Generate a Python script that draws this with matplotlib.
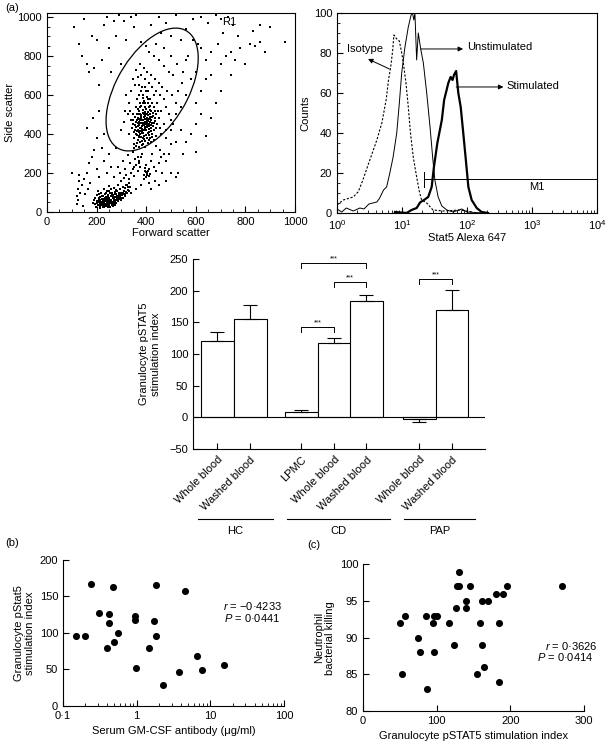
import numpy as np
import matplotlib
matplotlib.use("Agg")
import matplotlib.pyplot as plt
from matplotlib.patches import Ellipse
from matplotlib.ticker import MultipleLocator, LogLocator, NullFormatter

plt.rcParams['font.family'] = ['Liberation Sans', 'DejaVu Sans']
plt.rcParams['font.size'] = 8
plt.rcParams['mathtext.fontset'] = 'custom'
plt.rcParams['mathtext.rm'] = 'Liberation Sans'
plt.rcParams['mathtext.it'] = 'Liberation Sans:italic'
plt.rcParams['mathtext.default'] = 'regular'
plt.rcParams['xtick.direction'] = 'in'
plt.rcParams['ytick.direction'] = 'in'
plt.rcParams['axes.linewidth'] = 0.8

# ---- panel (a) left: forward / side scatter dots ----
lymph_pts = [
    (195, 40), (200, 55), (205, 35), (208, 70), (210, 50), (212, 30), (215, 62), (218, 45), (220, 80), (222, 38),
    (225, 55), (227, 68), (228, 28), (230, 48), (232, 90), (234, 60), (236, 42), (238, 75), (240, 52), (241, 33),
    (243, 65), (245, 85), (246, 47), (248, 58), (250, 38), (251, 72), (253, 95), (255, 55), (256, 44), (258, 80),
    (260, 62), (262, 35), (263, 100), (265, 70), (267, 50), (268, 88), (270, 58), (272, 42), (274, 75), (275, 105),
    (277, 63), (279, 48), (280, 90), (282, 70), (284, 110), (286, 55), (288, 82), (290, 66), (292, 95), (294, 120),
    (296, 75), (298, 60), (300, 100), (303, 85), (306, 130), (308, 70), (310, 110), (313, 92), (316, 125), (320, 105),
    (324, 140), (328, 115), (332, 150), (336, 130), (215, 22), (225, 25), (235, 30), (245, 28), (255, 25), (265, 30),
    (275, 35), (233, 72), (247, 80), (261, 86), (239, 98), (252, 110), (270, 125), (285, 140), (219, 95), (207, 110),
    (200, 85), (190, 60), (185, 45), (198, 25), (228, 62), (236, 55), (244, 44), (252, 63), (259, 52), (266, 78),
    (273, 92), (281, 60), (289, 74), (297, 88), (305, 98), (213, 40), (221, 66), (231, 36), (242, 76), (254, 46),
    (203, 48), (209, 60), (214, 75), (217, 52), (223, 47), (226, 83), (231, 58), (237, 64), (242, 39), (249, 68),
    (257, 59), (264, 45), (269, 66), (276, 52), (283, 80), (291, 85), (299, 72), (307, 92), (314, 80), (318, 140),
    (326, 128), (322, 95), (330, 110), (240, 110), (260, 120), (280, 115), (230, 120), (250, 135), (210, 90), (195, 70),
]
bridge_pts = [
    (300, 160), (310, 175), (320, 190), (330, 170), (340, 200), (345, 220), (350, 185), (360, 240), (365, 210),
    (370, 260), (375, 230), (380, 280), (385, 300), (355, 270), (335, 250), (315, 220), (295, 200), (285, 230),
    (305, 260), (325, 290), (345, 310), (390, 190), (395, 210), (400, 180), (405, 200), (410, 220), (400, 240),
    (415, 195), (420, 260), (430, 230), (440, 210), (450, 250), (460, 280), (470, 300), (480, 260), (490, 300),
    (455, 320), (425, 300), (440, 340), (465, 200), (435, 160), (410, 150), (380, 140), (360, 120), (340, 100),
    (420, 120), (450, 140), (480, 160), (500, 200), (120, 40), (122, 80), (125, 120), (128, 160), (130, 190),
    (125, 60), (135, 100), (140, 140), (145, 30), (150, 170), (160, 200), (170, 250), (180, 280), (175, 150),
    (165, 120), (155, 90), (190, 320), (200, 220), (210, 180), (230, 260), (240, 200), (260, 230), (270, 180),
    (250, 300), (220, 330), (280, 330), (200, 380), (230, 400), (160, 430), (185, 480), (210, 520),
    (398, 205), (403, 190), (408, 210), (395, 225), (412, 185), (390, 170), (372, 250), (366, 280), (352, 230),
]
gran_pts = [
    (350, 380), (355, 420), (358, 460), (360, 400), (362, 500), (365, 370), (366, 440), (368, 480), (370, 410),
    (372, 520), (373, 390), (375, 455), (376, 360), (378, 495), (380, 430), (381, 545), (383, 405), (385, 470),
    (386, 380), (388, 510), (390, 445), (391, 570), (393, 420), (395, 490), (396, 365), (398, 530), (400, 460),
    (401, 395), (403, 505), (405, 435), (406, 560), (408, 475), (410, 410), (411, 540), (413, 450), (415, 380),
    (416, 500), (418, 430), (420, 470), (421, 520), (423, 400), (425, 455), (427, 490), (430, 420), (432, 540),
    (435, 465), (438, 390), (440, 500), (345, 450), (348, 500), (352, 350), (357, 540), (363, 580), (371, 600),
    (379, 620), (387, 600), (394, 640), (402, 590), (409, 620), (417, 580), (424, 560), (433, 600), (442, 450),
    (446, 520), (350, 330), (360, 340), (372, 335), (384, 345), (396, 335), (408, 355), (420, 360), (430, 370),
    (370, 460), (380, 480), (390, 500), (400, 420), (410, 440), (385, 440), (395, 460), (405, 480), (375, 430),
    (415, 460), (388, 470), (398, 450), (378, 455), (392, 485), (402, 470), (382, 415), (412, 395), (367, 505),
    (397, 540), (407, 515), (377, 540), (417, 545), (387, 560), (362, 470), (427, 440), (437, 480), (352, 410),
    (342, 430), (338, 470), (335, 520), (445, 560), (450, 480), (455, 430), (460, 520), (330, 560), (325, 500),
    (320, 600), (340, 620), (355, 650), (365, 690), (380, 700), (395, 680), (410, 660), (425, 640), (440, 620),
    (455, 600), (470, 580), (480, 540), (490, 500), (500, 470), (470, 450), (460, 400), (480, 420), (500, 420),
    (510, 450), (520, 500), (300, 420), (310, 460), (315, 520), (330, 400), (345, 680), (360, 730), (375, 760),
    (390, 740), (405, 720), (420, 700), (435, 680), (450, 660), (465, 640), (485, 620), (505, 600), (520, 560),
    (530, 620), (545, 660), (510, 700), (490, 720), (470, 750), (450, 780), (430, 800), (410, 820), (400, 850),
    (440, 860), (470, 840), (500, 800), (525, 760), (550, 720), (560, 780), (540, 880), (500, 900), (460, 920),
    (364, 395), (374, 415), (384, 455), (394, 435), (404, 445), (414, 485), (369, 445), (379, 385), (389, 405),
    (399, 475), (409, 495), (419, 415), (359, 435), (392, 392), (386, 525), (376, 505), (396, 515), (406, 405),
    (355, 445), (361, 415), (367, 455), (371, 475), (374, 400), (377, 470), (381, 490), (384, 425), (387, 445),
    (391, 455), (394, 475), (397, 425), (401, 505), (404, 455), (407, 465), (411, 425), (414, 475), (417, 505),
    (421, 445), (424, 485), (368, 420), (372, 385), (382, 365), (392, 375), (402, 380), (412, 370), (422, 385),
    (366, 530), (376, 560), (386, 585), (396, 560), (406, 580), (416, 525), (426, 510), (436, 520), (356, 485),
    (346, 470), (431, 455), (441, 430), (363, 355), (389, 350), (399, 620), (383, 640), (371, 650),
]
sparse_pts = [
    (130, 860), (140, 800), (150, 990), (160, 760), (170, 720), (180, 900), (190, 740), (200, 880), (210, 650),
    (220, 780), (230, 960), (240, 1000), (250, 840), (260, 720), (270, 980), (280, 900), (290, 1010), (300, 760),
    (310, 980), (320, 880), (340, 1000), (350, 950), (360, 1010), (380, 870), (420, 960), (450, 1000), (480, 970),
    (520, 1010), (560, 940), (590, 990), (620, 1000), (650, 970), (680, 1010), (700, 990), (710, 920), (690, 860),
    (660, 820), (640, 780), (620, 840), (600, 720), (580, 680), (560, 600), (540, 540), (600, 560), (620, 620),
    (640, 680), (660, 700), (700, 760), (720, 800), (740, 820), (760, 780), (780, 840), (800, 760), (820, 860),
    (840, 850), (860, 870), (900, 950), (960, 870), (880, 820), (620, 500), (640, 390), (600, 450), (580, 400),
    (560, 360), (540, 420), (600, 310), (520, 180), (530, 200), (700, 620), (680, 560), (660, 480), (740, 700),
    (770, 900), (830, 930), (860, 960), (750, 960), (730, 1000), (610, 860), (590, 880), (570, 800), (100, 200),
    (110, 950), (550, 300), (500, 350), (480, 380), (520, 360),
]

# ---- panel (a) right: Stat5 histograms ----
iso_x = [1.0, 1.25, 1.78, 2.13, 2.5, 3.2, 4.1, 4.9, 5.7, 6.2, 6.7, 7.2, 7.5, 8.3, 9.1, 9.9, 10.7, 11.5,
         12.5, 13.5, 14.9, 16.8, 18.5, 20, 24, 30, 43, 78, 123]
iso_y = [4, 6.5, 8, 10.7, 16.5, 26.5, 36.5, 45, 56.5, 66.5, 73, 81.5, 89, 87, 86, 80, 73, 65,
         53, 40, 28, 18, 10.7, 6.5, 5, 1.5, 1, 1.5, 0.5]
unstim_x = [1.0, 1.18, 1.39, 1.78, 2.25, 2.6, 3.1, 4.1, 4.5, 5.2, 5.8, 6.5, 7.3, 8.3, 9.1, 9.9, 11.1, 12.5,
            13.8, 14.5, 15.2, 15.8, 16.8, 17.8, 19.4, 21.3, 24, 27, 29.6, 32, 36, 41, 49, 61, 83, 100, 178]
unstim_y = [2, 0.5, 2.5, 1, 2.5, 2, 4.5, 5.5, 7.3, 11.5, 13, 20, 28, 40, 55, 70, 83, 93,
            99, 100, 96.5, 100, 76.5, 90, 82, 75, 60, 43, 28, 16.5, 8, 3.5, 1.5, 0.5, 2, 0.5, 0]
stim_x = [7.8, 11.8, 14, 16.8, 19, 21.8, 25.3, 28.6, 31, 35, 41, 44.5, 48.6, 51.6, 56, 60, 63, 68,
          73.5, 80, 87.6, 96, 105, 118, 141, 168, 210]
stim_y = [0.5, 0, 1.5, 2.5, 5.3, 6.5, 8, 13, 23, 35, 46.5, 56.5, 61.5, 65, 68, 66.5, 69, 71,
          60, 53, 40, 26.5, 13, 6.5, 2.5, 0.5, 0]

# ---- bar chart ----
bar_labels = ['Whole blood', 'Washed blood', 'LPMC', 'Whole blood', 'Washed blood', 'Whole blood', 'Washed blood']
bar_pos = [0, 1, 2.55, 3.55, 4.52, 6.12, 7.12]
bar_vals = [120, 156, 8, 118, 183, -3, 169]
bar_err = [14, 21, 3, 8, 10, 5, 32]
groups = ['HC', 'CD', 'PAP']
group_span = [(-0.58, 1.70), (2.12, 5.24), (5.67, 7.82)]
brackets = [(2, 4, 243), (3, 4, 213), (2, 3, 142), (5, 6, 218)]

# ---- panel (b) ----
ab_conc = [0.152, 0.20, 0.243, 0.31, 0.42, 0.42, 0.40, 0.48, 0.50, 0.56, 0.94, 0.94, 0.99, 1.48,
           1.73, 1.82, 1.82, 2.29, 3.78, 4.5, 6.5, 7.75, 15.5]
b_index = [96, 96, 167, 127, 126, 113, 80, 163, 88, 100, 123, 118, 52, 80,
           117, 165, 96, 29, 47, 157, 68, 49, 56]

# ---- panel (c) ----
c_index = [50, 57, 52.6, 75, 78, 87.5, 86, 95, 96, 96.5, 101, 117, 124, 126, 127, 130.5, 130.5, 139.5,
           139.5, 145, 155.4, 159.5, 162, 162, 164.5, 170, 180, 185, 185, 190, 195, 269.6]
killing = [92, 93, 85, 90, 88, 83, 93, 92, 88, 93, 93, 92, 89, 94, 97, 99, 97, 95,
           94, 97, 85, 92, 89, 95, 86, 95, 96, 92, 84, 96, 97, 97]

fig = plt.figure(figsize=(6.07, 7.45), dpi=100)

# panel (a) left
ax1 = fig.add_axes([0.0774, 0.7154, 0.4086, 0.2671])
for pts in (lymph_pts, bridge_pts, gran_pts, sparse_pts):
    arr = np.array(pts)
    ax1.scatter(arr[:, 0], arr[:, 1], s=2.4, color='black', linewidths=0, marker='s')
ax1.add_patch(Ellipse((424, 628), 666, 302, angle=68.6, fill=False, lw=0.9, color='black'))
ax1.text(705, 975, 'R1', fontsize=8, va='center')
ax1.set_xlim(0, 1000)
ax1.set_ylim(0, 1020)
ax1.set_xticks(range(0, 1001, 200))
ax1.set_yticks(range(0, 1001, 200))
ax1.xaxis.set_minor_locator(MultipleLocator(50))
ax1.yaxis.set_minor_locator(MultipleLocator(50))
ax1.tick_params(which='major', length=4)
ax1.tick_params(which='minor', length=2)
ax1.set_xlabel('Forward scatter', labelpad=1)
ax1.set_ylabel('Side scatter', labelpad=2)

# panel (a) right
ax2 = fig.add_axes([0.5552, 0.7141, 0.4283, 0.2685])
ax2.plot(iso_x, iso_y, color='black', lw=0.8, ls=(0, (2, 1.5)))
ax2.plot(unstim_x, unstim_y, color='black', lw=0.7)
ax2.plot(stim_x, stim_y, color='black', lw=1.6)
ax2.plot([21.8, 1e4], [17, 17], color='black', lw=0.7)
ax2.plot([21.8, 21.8], [13.2, 20.7], color='black', lw=0.7)
ax2.text(1180, 15.5, 'M1', fontsize=8, ha='center', va='top')
arrow = dict(arrowstyle='-|>', color='black', lw=0.7, mutation_scale=7, shrinkA=0, shrinkB=0)
ax2.annotate('', xy=(3.0, 77), xytext=(6.4, 72), arrowprops=arrow)
ax2.text(2.74, 82, 'Isotype', fontsize=8, ha='center', va='center')
ax2.annotate('', xy=(87, 82), xytext=(19.4, 82), arrowprops=arrow)
ax2.text(100, 83, 'Unstimulated', fontsize=8, ha='left', va='center')
ax2.annotate('', xy=(363, 63), xytext=(68, 63), arrowprops=arrow)
ax2.text(400, 63.5, 'Stimulated', fontsize=8, ha='left', va='center')
ax2.set_xscale('log')
ax2.set_xlim(1, 1e4)
ax2.set_ylim(0, 100)
ax2.set_xticks([1, 10, 100, 1000, 10000])
ax2.set_xticklabels(['$10^{0}$', '$10^{1}$', '$10^{2}$', '$10^{3}$', '$10^{4}$'])
ax2.xaxis.set_minor_locator(LogLocator(base=10, subs=np.arange(2, 10), numticks=20))
ax2.xaxis.set_minor_formatter(NullFormatter())
ax2.set_yticks(range(0, 101, 20))
ax2.yaxis.set_minor_locator(MultipleLocator(5))
ax2.tick_params(which='major', length=4)
ax2.tick_params(which='minor', length=2)
ax2.set_xlabel('Stat5 Alexa 647', labelpad=1)
ax2.set_ylabel('Counts', labelpad=2)

# bar chart
ax3 = fig.add_axes([0.318, 0.3973, 0.481, 0.255])
ax3.bar(bar_pos, bar_vals, width=1.0, color='white', edgecolor='black', lw=0.8, zorder=2)
lower = [e if v < 0 else 0 for v, e in zip(bar_vals, bar_err)]
upper = [0 if v < 0 else e for v, e in zip(bar_vals, bar_err)]
ax3.errorbar(bar_pos, bar_vals, yerr=[lower, upper], fmt='none', ecolor='black',
             elinewidth=0.8, capsize=5, capthick=0.8, zorder=3)
ax3.axhline(0, color='black', lw=0.8, zorder=4)
for i, j, y in brackets:
    x1, x2 = bar_pos[i], bar_pos[j]
    ax3.plot([x1, x1, x2, x2], [y - 7, y, y, y - 7], color='black', lw=0.7)
    ax3.text((x1 + x2) / 2, y + 2, '***', fontsize=5, ha='center', va='bottom')
ax3.set_xlim(-0.73, 8.12)
ax3.set_ylim(-50, 250)
ax3.set_yticks(range(-50, 251, 50))
ax3.set_xticks(bar_pos)
ax3.set_xticklabels(bar_labels, rotation=45, ha='right', rotation_mode='anchor')
ax3.tick_params(axis='x', length=4, pad=4)
ax3.tick_params(axis='y', length=4)
for s in ('top', 'right'):
    ax3.spines[s].set_visible(False)
ax3.set_ylabel('Granulocyte pSTAT5\nstimulation index', labelpad=6)
for name, (g0, g1) in zip(groups, group_span):
    ax3.plot([g0, g1], [-160, -160], color='black', lw=0.8, clip_on=False)
    ax3.text((g0 + g1) / 2, -172, name, ha='center', va='top', fontsize=8)

# panel (b)
ax4 = fig.add_axes([0.1038, 0.0524, 0.3641, 0.196])
ax4.scatter(ab_conc, b_index, s=26, color='black', linewidths=0, zorder=3)
ax4.set_xscale('log')
ax4.set_xlim(0.1, 100)
ax4.set_ylim(0, 200)
ax4.set_xticks([0.1, 1, 10, 100])
ax4.set_xticklabels(['0·1', '1', '10', '100'])
ax4.xaxis.set_minor_locator(LogLocator(base=10, subs=np.arange(2, 10), numticks=20))
ax4.xaxis.set_minor_formatter(NullFormatter())
ax4.set_yticks(range(0, 201, 50))
ax4.tick_params(which='major', length=4)
ax4.tick_params(which='minor', length=2)
for s in ('top', 'right'):
    ax4.spines[s].set_visible(False)
ax4.text(14.8, 137, '$\\mathit{r}$ = \u22120·4233', fontsize=8, va='center')
ax4.text(15.5, 120, '$\\mathit{P}$ = 0·0441', fontsize=8, va='center')
ax4.set_xlabel('Serum GM-CSF antibody (\u03bcg/ml)', labelpad=4)
ax4.set_ylabel('Granulocyte pStat5\nstimulation index', labelpad=3)

# panel (c)
ax5 = fig.add_axes([0.598, 0.0456, 0.364, 0.197])
ax5.scatter(c_index, killing, s=26, color='black', linewidths=0, zorder=3, clip_on=False)
ax5.set_xlim(0, 300)
ax5.set_ylim(80, 100)
ax5.set_xticks(range(0, 301, 100))
ax5.set_yticks(range(80, 101, 5))
ax5.tick_params(which='major', length=4)
for s in ('top', 'right'):
    ax5.spines[s].set_visible(False)
ax5.text(247, 88.9, '$\\mathit{r}$ = 0·3626', fontsize=8, va='center')
ax5.text(235.6, 87.4, '$\\mathit{P}$ = 0·0414', fontsize=8, va='center')
ax5.set_xlabel('Granulocyte pSTAT5 stimulation index', labelpad=4)
ax5.set_ylabel('Neutrophil\nbacterial killing', labelpad=3)

fig.text(5 / 607, 1 - 8 / 745, '(a)', fontsize=8, va='center')
fig.text(5 / 607, 1 - 543 / 745, '(b)', fontsize=8, va='center')
fig.text(307 / 607, 1 - 545 / 745, '(c)', fontsize=8, va='center')

fig.savefig('out.png', dpi=100)
